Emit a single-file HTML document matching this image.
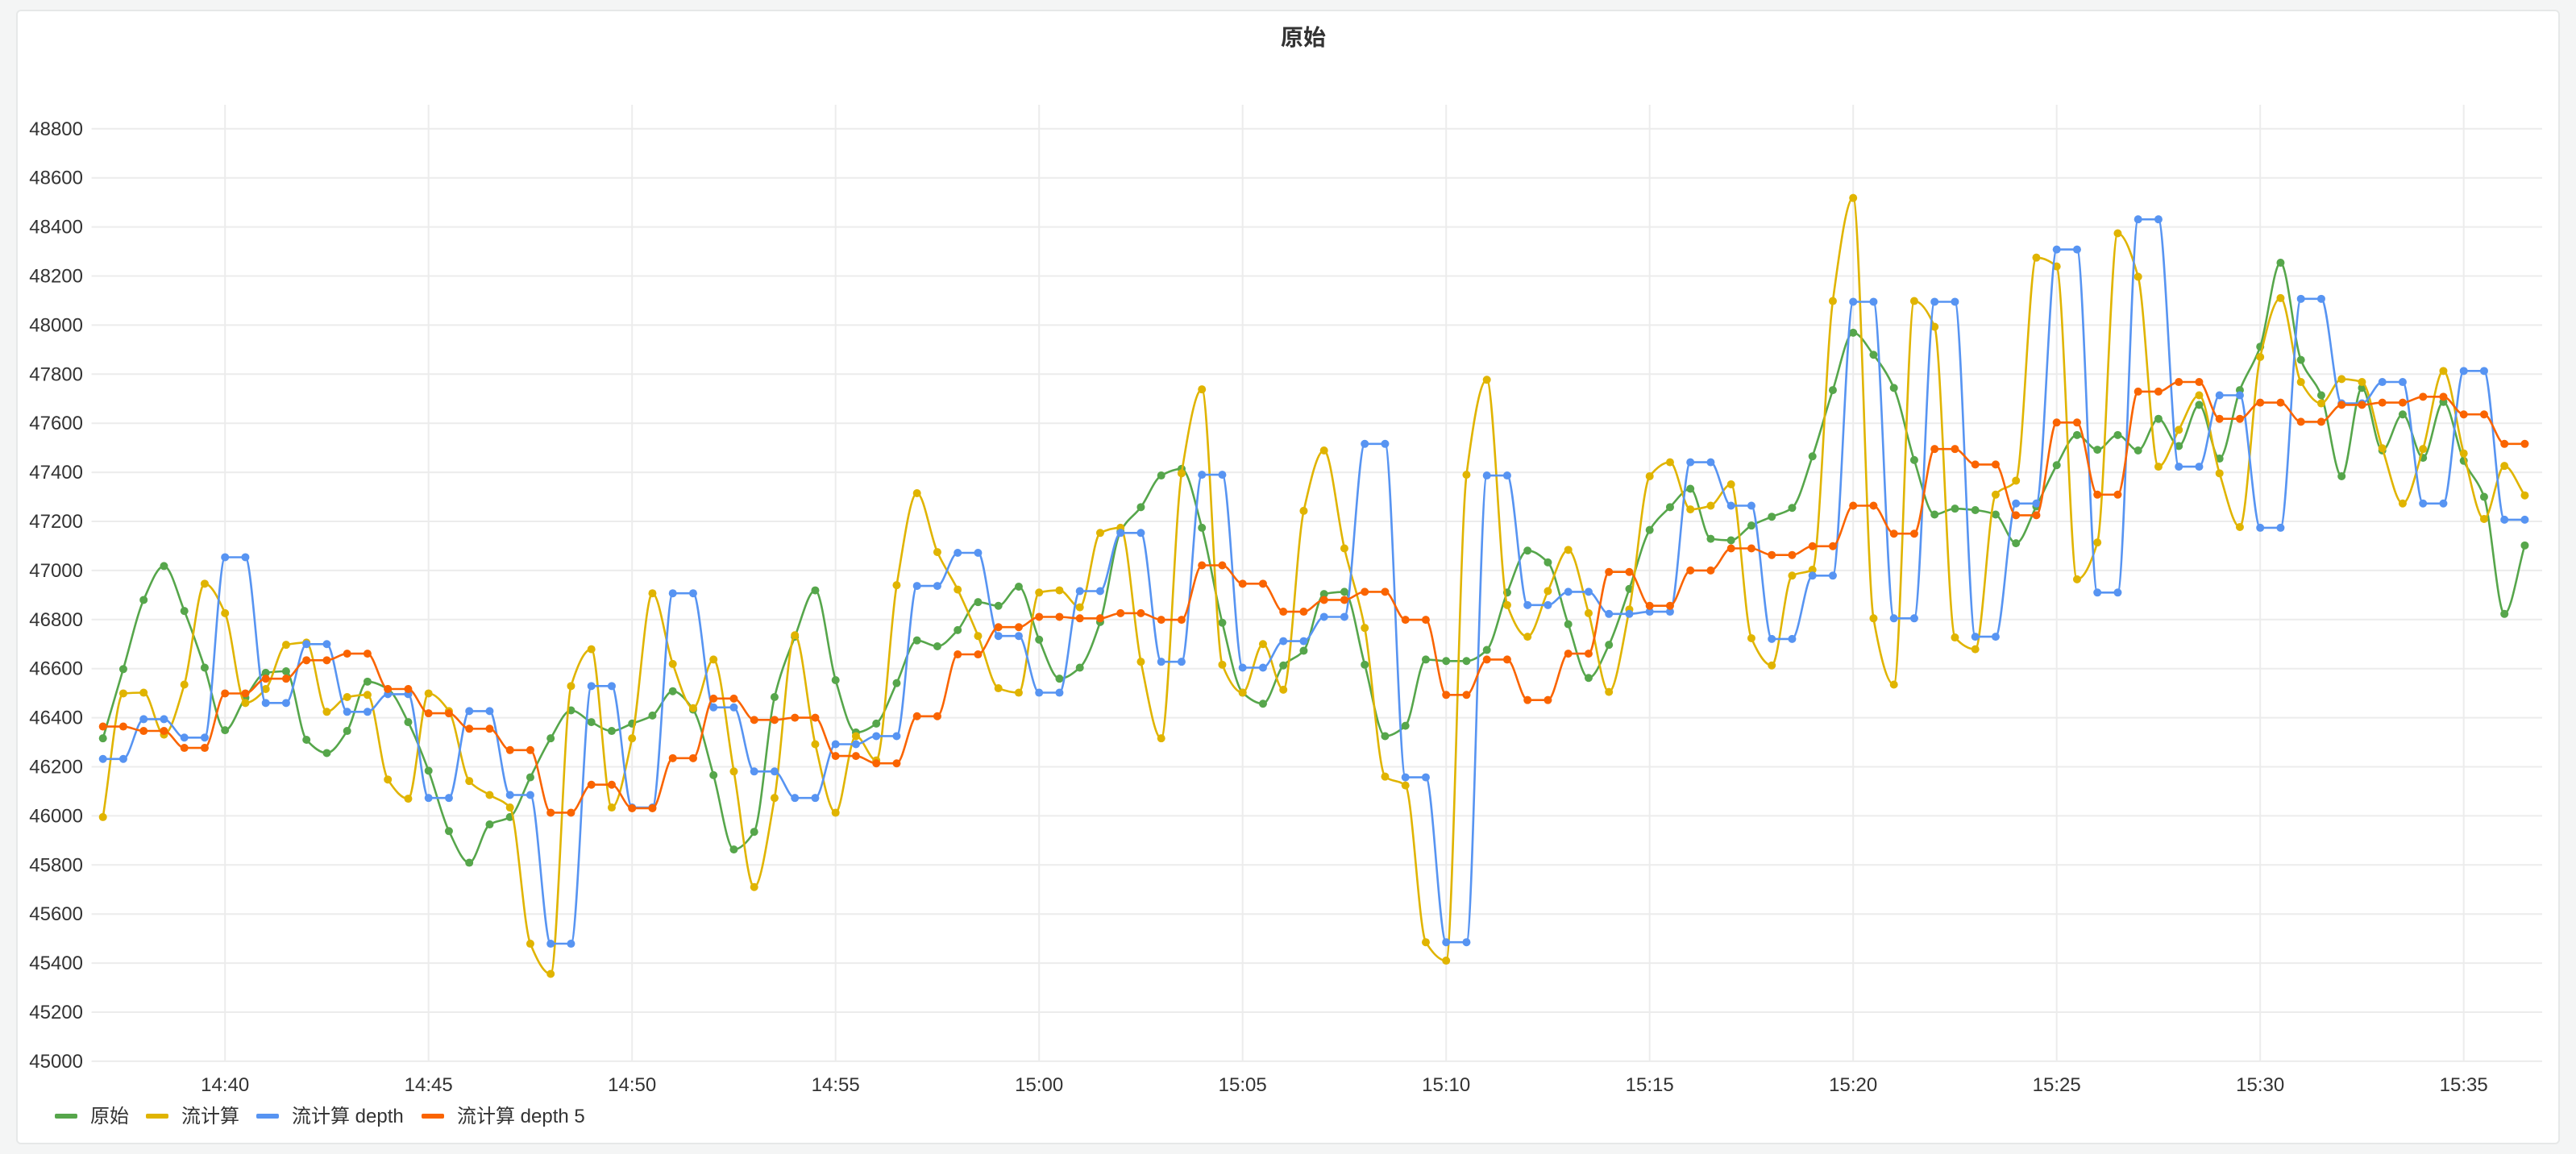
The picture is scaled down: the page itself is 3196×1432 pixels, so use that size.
<!DOCTYPE html>
<html><head><meta charset="utf-8">
<style>
html,body{margin:0;padding:0;background:#f4f5f5;}
body{width:3196px;height:1432px;overflow:hidden;position:relative;font-family:"Liberation Sans","Noto Sans CJK SC",sans-serif;}
#panel{position:absolute;left:20px;top:12px;width:3156px;height:1408px;background:#fff;border:2px solid #e6e8e8;border-radius:6px;box-sizing:border-box;}
svg{position:absolute;left:0;top:0;}
</style></head>
<body>
<div id="panel"></div>
<svg id="chart" width="3196" height="1432">
<text x="1617" y="56" text-anchor="middle" font-size="28" font-weight="bold" fill="#333" font-family="Liberation Sans, Noto Sans CJK SC, sans-serif">原始</text>
<g id="grid"></g>
<g id="yaxis"></g>
<g id="xaxis"></g>
<g id="series"></g>
<g id="legend"></g>
</svg>
<script>
const yTicks=[45000,45200,45400,45600,45800,46000,46200,46400,46600,46800,47000,47200,47400,47600,47800,48000,48200,48400,48600,48800];
const xTickLabels=["14:40","14:45","14:50","14:55","15:00","15:05","15:10","15:15","15:20","15:25","15:30","15:35"];
const xTickMinutes=[40,45,50,55,60,65,70,75,80,85,90,95];
const startMinute=37;const stepMinutes=0.5;
const seriesNames=["原始","流计算","流计算 depth","流计算 depth 5"];
const seriesColors=["#56a64b","#e0b400","#5794f2","#fa6400"];
const raw=[46316,46598,46880,47018,46835,46604,46349,46481,46583,46589,46310,46256,46346,46547,46517,46382,46184,45938,45809,45965,45995,46157,46316,46430,46382,46346,46376,46409,46508,46433,46166,45863,45935,46484,46730,46919,46553,46340,46376,46541,46715,46691,46757,46871,46856,46934,46718,46559,46604,46790,47159,47258,47387,47414,47174,46787,46502,46457,46613,46673,46904,46913,46616,46325,46367,46637,46631,46631,46676,46910,47081,47033,46781,46562,46697,46925,47165,47258,47333,47129,47123,47183,47219,47255,47465,47735,47969,47879,47744,47450,47228,47252,47246,47228,47111,47261,47429,47552,47492,47552,47489,47618,47507,47675,47456,47735,47912,48254,47858,47714,47384,47744,47489,47636,47459,47687,47447,47300,46823,47102];
const stream=[45995,46499,46502,46331,46535,46946,46826,46460,46517,46697,46706,46424,46484,46493,46148,46070,46499,46427,46142,46085,46034,45479,45356,46529,46679,46034,46316,46907,46619,46439,46637,46181,45710,46073,46736,46292,46013,46325,46226,46940,47315,47075,46922,46733,46520,46502,46910,46919,46850,47153,47174,46628,46316,47396,47738,46616,46502,46700,46514,47243,47489,47090,46766,46160,46124,45485,45410,47390,47777,46859,46730,46916,47084,46826,46505,46841,47384,47441,47249,47264,47351,46724,46613,46979,47003,48098,48518,46805,46535,48098,47993,46727,46679,47309,47366,48275,48239,46964,47114,48374,48197,47423,47573,47714,47396,47177,47870,48110,47768,47681,47780,47768,47498,47273,47495,47813,47477,47210,47426,47306];
const depthPairs=[46232,46394,46319,47054,46460,46700,46424,46496,46073,46427,46085,45479,46529,46034,46907,46442,46181,46073,46292,46325,46937,47072,46733,46502,46916,47153,46628,47390,46604,46712,46811,47516,46157,45485,47387,46859,46913,46823,46832,47441,47264,46721,46979,48095,46805,48095,46730,47273,48308,46910,48431,47423,47714,47174,48107,47681,47768,47273,47813,47207];
const depth5Pairs=[46364,46346,46277,46499,46559,46634,46661,46517,46418,46355,46268,46013,46127,46031,46235,46478,46391,46400,46244,46214,46406,46658,46769,46811,46805,46826,46799,47021,46946,46832,46880,46913,46799,46493,46637,46472,46661,46994,46856,47000,47090,47063,47099,47264,47150,47495,47432,47225,47603,47309,47729,47768,47618,47684,47606,47675,47684,47708,47636,47516];

const NS="http://www.w3.org/2000/svg";
const plotL=113.6,plotR=3154,plotT=130,plotB=1317;
function xScale(m){return 279.2+(m-40)*50.5;}
function yScale(v){return 159.8+(48800-v)*0.3045;}
function mk(tag,attrs,parent){const e=document.createElementNS(NS,tag);for(const k in attrs)e.setAttribute(k,attrs[k]);parent.appendChild(e);return e;}
const grid=document.getElementById('grid'),yax=document.getElementById('yaxis'),xax=document.getElementById('xaxis');
yTicks.forEach(v=>{const y=yScale(v);
 const l=mk('line',{x1:plotL,x2:plotR,y1:y,y2:y,stroke:'#ececec','stroke-width':2},grid);
 
 
 const t=mk('text',{x:103,y:y+8,'text-anchor':'end','font-size':24,fill:'#333'},yax);
 
 
 t.textContent=v;});
xTickMinutes.forEach((m,i)=>{const x=xScale(m);
 const l=mk('line',{x1:x,x2:x,y1:plotT,y2:plotB,stroke:'#ececec','stroke-width':2},grid);
 
 
 const t=mk('text',{x:x,y:1354,'text-anchor':'middle','font-size':24,fill:'#333'},xax);
 
 
 t.textContent=xTickLabels[i];});
function expand(p){const o=[];p.forEach(v=>{o.push(v,v);});return o;}
const allSeries=[raw,stream,expand(depthPairs),expand(depth5Pairs)];
function monotonePath(pts){const n=pts.length;if(n<2)return'';
 const dx=[],dy=[],s=[];for(let i=0;i<n-1;i++){dx.push(pts[i+1][0]-pts[i][0]);dy.push(pts[i+1][1]-pts[i][1]);s.push(dy[i]/dx[i]);}
 const m=new Array(n);m[0]=s[0];m[n-1]=s[n-2];
 for(let i=1;i<n-1;i++){if(s[i-1]*s[i]<=0)m[i]=0;else{const w1=2*dx[i]+dx[i-1],w2=dx[i]+2*dx[i-1];m[i]=(w1+w2)/(w1/s[i-1]+w2/s[i]);}}
 let d='M'+pts[0][0].toFixed(1)+','+pts[0][1].toFixed(1);
 for(let i=0;i<n-1;i++){const h=dx[i]/3;d+='C'+(pts[i][0]+h).toFixed(1)+','+(pts[i][1]+m[i]*h).toFixed(1)+' '+(pts[i+1][0]-h).toFixed(1)+','+(pts[i+1][1]-m[i+1]*h).toFixed(1)+' '+pts[i+1][0].toFixed(1)+','+pts[i+1][1].toFixed(1);}
 return d;}
const sg=document.getElementById('series');
allSeries.forEach((vals,si)=>{const g=mk('g',{},sg);
 
 
 const pts=vals.map((v,i)=>[xScale(startMinute+i*stepMinutes),yScale(v)]);
 const p=mk('path',{d:monotonePath(pts),fill:'none',stroke:seriesColors[si],'stroke-width':2.6},g);
 
 
 pts.forEach(pt=>{const c=mk('circle',{cx:pt[0],cy:pt[1],r:5,fill:seriesColors[si]},g);
  
  });});
const lg=document.getElementById('legend');
const legX=[68,181,318,523];
seriesNames.forEach((nm,i)=>{const g=mk('g',{},lg);
 
 
 const r=mk('rect',{x:legX[i],y:1382,width:28,height:6,rx:2,fill:seriesColors[i]},g);
 
 
 const t=mk('text',{x:legX[i]+44,y:1393,'font-size':24,fill:'#333','font-family':'Liberation Sans, Noto Sans CJK SC, sans-serif'},g);
 
 
 t.textContent=nm;});
</script>
</body></html>
